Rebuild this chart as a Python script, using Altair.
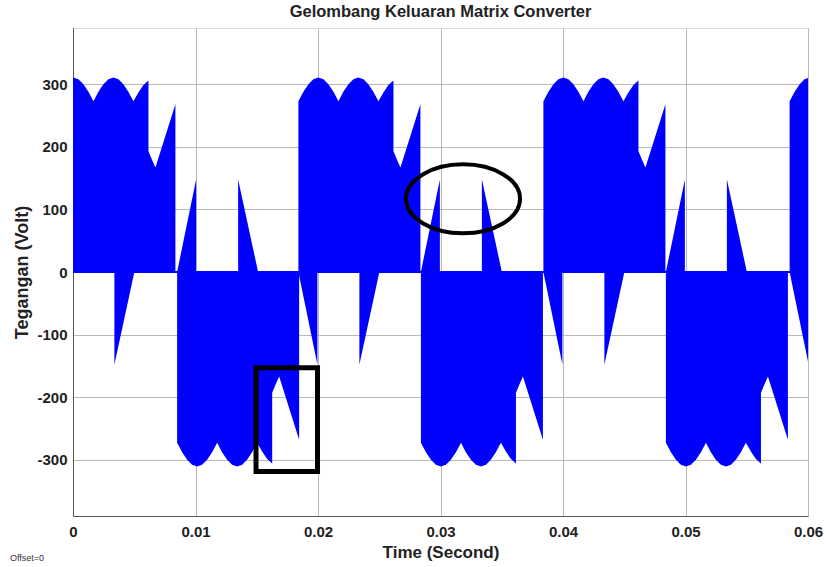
import altair as alt
import pandas as pd

# ---- data ----
# start time (s) and polarity of each ~10 ms PWM block
block_start = [-0.0016, 0.0085, 0.0184, 0.0284, 0.0384, 0.0484, 0.0585]
block_sign = [1, -1, 1, -1, 1, -1, 1]

# envelope of a main block: time offset from block start (s) and magnitude (V)
env_off = [0.0, 0.0, 0.00041, 0.00082, 0.00122, 0.00163, 0.00204, 0.00245, 0.00286,
           0.00327, 0.00367, 0.00408, 0.00449, 0.0049, 0.00531, 0.00571, 0.00612,
           0.00653, 0.00694, 0.00735, 0.00776, 0.00776, 0.00804, 0.00833, 0.00996, 0.00996]
env_mag = [0, 273, 288, 300, 308, 311, 308, 300, 288,
           273, 288, 300, 308, 311, 308, 300, 288,
           273, 287, 299, 306, 193, 180, 167, 268, 0]

# two opposite-polarity triangles inside each block
tri1_off = [0.0, 0.00155, 0.00155]
tri1_mag = [0, 148, 0]
tri2_off = [0.00498, 0.00498, 0.00661]
tri2_mag = [0, 148, 0]

x_ticks = [0, 0.01, 0.02, 0.03, 0.04, 0.05, 0.06]
y_ticks = [-300, -200, -100, 0, 100, 200, 300]

# annotations (data coordinates)
box_t = [0.01494, 0.01996]
box_v = [-153, -319]
ellipse_t = [0.03184]
ellipse_v = [117]

# ---- build table ----
rows = []
pid = 0
for s, sg in zip(block_start, block_sign):
    for off, mag in zip(env_off, env_mag):
        rows.append({"piece": pid, "t": round(s + off, 6), "v": sg * mag})
    pid += 1
    for offs, mags in ((tri1_off, tri1_mag), (tri2_off, tri2_mag)):
        for off, mag in zip(offs, mags):
            rows.append({"piece": pid, "t": round(s + off, 6), "v": -sg * mag})
        pid += 1
df = pd.DataFrame(rows)
df["z"] = 0

FONT = "Liberation Sans"
BLUE = "#0000ff"

xscale = alt.Scale(domain=[0, 0.06], nice=False, zero=False)
yscale = alt.Scale(domain=[-390, 390], nice=False, zero=False)

xaxis = alt.Axis(values=x_ticks, title="Time (Second)",
                 labelExpr="datum.value == 0 ? '0' : format(datum.value, '.2f')",
                 grid=True, gridColor="#b8b8b8", gridWidth=1, ticks=False,
                 domainColor="#555555", labelFont=FONT, labelFontSize=15,
                 labelFontWeight="bold", labelColor="#222222", labelPadding=8,
                 titleFont=FONT, titleFontSize=17, titleFontWeight="bold",
                 titleColor="#222222", titlePadding=5, labelFlush=False)
yaxis = alt.Axis(values=y_ticks, title="Tegangan (Volt)",
                 labelExpr="(datum.value < 0 ? '-' : '') + abs(datum.value)",
                 grid=True, gridColor="#b8b8b8", gridWidth=1, ticks=False,
                 domainColor="#555555", labelFont=FONT, labelFontSize=15,
                 labelFontWeight="bold", labelColor="#222222", labelPadding=6,
                 titleFont=FONT, titleFontSize=18, titleFontWeight="bold",
                 titleColor="#222222", titlePadding=5)

wave = alt.Chart(df).mark_area(color=BLUE, opacity=1, clip=True).encode(
    x=alt.X("t:Q", scale=xscale, axis=xaxis),
    y=alt.Y("v:Q", scale=yscale, axis=yaxis),
    y2=alt.Y2("z:Q"),
    detail="piece:N",
)

zero = alt.Chart(pd.DataFrame({"t": [0.0], "t2": [0.06], "v": [0]})).mark_rule(
    color=BLUE, strokeWidth=2).encode(x=alt.X("t:Q", scale=xscale), x2="t2:Q",
                                      y=alt.Y("v:Q", scale=yscale))

box = alt.Chart(pd.DataFrame({"t": [box_t[0]], "t2": [box_t[1]],
                              "v": [box_v[0]], "v2": [box_v[1]]})).mark_rect(
    fillOpacity=0, stroke="black", strokeWidth=5).encode(
    x=alt.X("t:Q", scale=xscale), x2="t2:Q", y=alt.Y("v:Q", scale=yscale), y2="v2:Q")

ellipse = alt.Chart(pd.DataFrame({"t": ellipse_t, "v": ellipse_v})).mark_point(
    shape="M-1,0A1,0.605,0,1,0,1,0A1,0.605,0,1,0,-1,0Z", size=114 * 114,
    filled=False, stroke="black", strokeWidth=4, opacity=1).encode(
    x=alt.X("t:Q", scale=xscale), y=alt.Y("v:Q", scale=yscale))

offset_text = alt.Chart(pd.DataFrame({"txt": ["Offset=0"]})).mark_text(
    align="left", baseline="middle", font=FONT, fontSize=9, color="#333333").encode(
    x=alt.value(-63), y=alt.value(42 + 488), text="txt:N")

chart = alt.layer(wave, zero, box, ellipse, offset_text).properties(
    width=735, height=488,
    autosize=alt.AutoSizeParams(type="none"),
    padding={"left": 73, "top": 28, "right": 18, "bottom": 51},
    title=alt.TitleParams("Gelombang Keluaran Matrix Converter", font=FONT,
                          fontSize=16.5, fontWeight="bold", color="#222222",
                          anchor="middle", offset=8),
).configure_view(stroke="#666666", strokeWidth=1).configure(background="white")

chart.save("out.html", embed_options={"renderer": "svg", "actions": False})
